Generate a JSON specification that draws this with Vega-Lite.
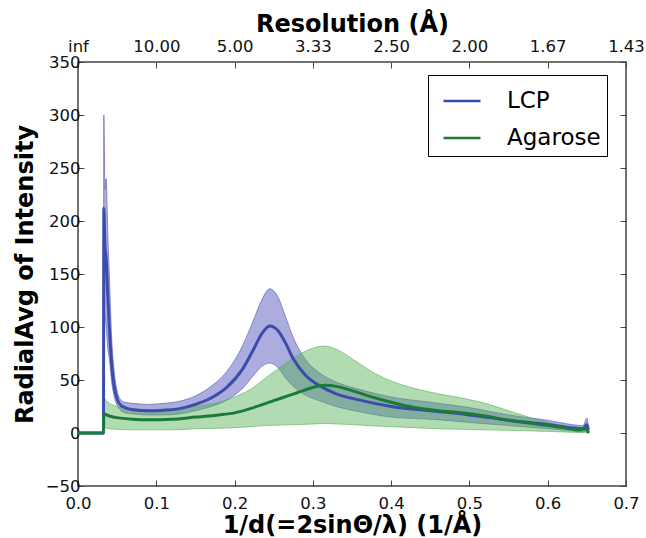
{
  "$schema": "https://vega.github.io/schema/vega-lite/v6.json",
  "width": 548,
  "height": 424,
  "autosize": {"type": "none"},
  "padding": {"left": 78, "top": 62, "right": 20, "bottom": 52},
  "background": "white",
  "config": {
    "font": "DejaVu Sans",
    "view": {"stroke": "#444444", "strokeWidth": 1.5},
    "axis": {
      "domain": false,
      "grid": false,
      "labelFlush": false,
      "tickColor": "#444444",
      "tickWidth": 1,
      "tickSize": -6,
      "labelFontSize": 16.5,
      "labelColor": "#111111",
      "titleFontSize": 24,
      "titleFontWeight": "bold",
      "titleColor": "#000000"
    }
  },
  "datasets": {
    "d": [
      {"x": 0.0, "s": "LCP", "m": 0, "lo": 0, "hi": 0},
      {"x": 0.0325, "s": "LCP", "m": 0, "lo": 0, "hi": 0},
      {"x": 0.033, "s": "LCP", "m": 212, "lo": 100, "hi": 300},
      {"x": 0.0345, "s": "LCP", "m": 175, "lo": 110, "hi": 230},
      {"x": 0.036, "s": "LCP", "m": 165, "lo": 100, "hi": 240},
      {"x": 0.038, "s": "LCP", "m": 130, "lo": 80, "hi": 190},
      {"x": 0.04, "s": "LCP", "m": 100, "lo": 70, "hi": 150},
      {"x": 0.043, "s": "LCP", "m": 65, "lo": 48, "hi": 90},
      {"x": 0.046, "s": "LCP", "m": 45, "lo": 35, "hi": 60},
      {"x": 0.05, "s": "LCP", "m": 32, "lo": 26, "hi": 40},
      {"x": 0.055, "s": "LCP", "m": 26, "lo": 21, "hi": 31},
      {"x": 0.06, "s": "LCP", "m": 24, "lo": 19, "hi": 29},
      {"x": 0.07, "s": "LCP", "m": 22, "lo": 18, "hi": 28},
      {"x": 0.09, "s": "LCP", "m": 21, "lo": 17, "hi": 27},
      {"x": 0.11, "s": "LCP", "m": 21.5, "lo": 17, "hi": 28},
      {"x": 0.13, "s": "LCP", "m": 23, "lo": 18, "hi": 30},
      {"x": 0.15, "s": "LCP", "m": 27, "lo": 21, "hi": 35},
      {"x": 0.17, "s": "LCP", "m": 33, "lo": 25, "hi": 44},
      {"x": 0.19, "s": "LCP", "m": 43, "lo": 31, "hi": 58},
      {"x": 0.21, "s": "LCP", "m": 60, "lo": 42, "hi": 82},
      {"x": 0.225, "s": "LCP", "m": 80, "lo": 55, "hi": 108},
      {"x": 0.235, "s": "LCP", "m": 94, "lo": 63, "hi": 126},
      {"x": 0.245, "s": "LCP", "m": 101, "lo": 66, "hi": 136},
      {"x": 0.255, "s": "LCP", "m": 97, "lo": 62, "hi": 129},
      {"x": 0.265, "s": "LCP", "m": 85, "lo": 52, "hi": 110},
      {"x": 0.275, "s": "LCP", "m": 70, "lo": 44, "hi": 90},
      {"x": 0.29, "s": "LCP", "m": 55, "lo": 36, "hi": 70},
      {"x": 0.31, "s": "LCP", "m": 44, "lo": 30, "hi": 56},
      {"x": 0.33, "s": "LCP", "m": 37, "lo": 25, "hi": 48},
      {"x": 0.36, "s": "LCP", "m": 31, "lo": 20, "hi": 41},
      {"x": 0.4, "s": "LCP", "m": 25, "lo": 15, "hi": 34},
      {"x": 0.45, "s": "LCP", "m": 21, "lo": 13, "hi": 29},
      {"x": 0.5, "s": "LCP", "m": 17, "lo": 10, "hi": 24},
      {"x": 0.55, "s": "LCP", "m": 12, "lo": 7, "hi": 17},
      {"x": 0.6, "s": "LCP", "m": 8, "lo": 4, "hi": 12},
      {"x": 0.63, "s": "LCP", "m": 5, "lo": 2, "hi": 8},
      {"x": 0.645, "s": "LCP", "m": 4, "lo": 1, "hi": 7},
      {"x": 0.65, "s": "LCP", "m": 8, "lo": 2, "hi": 14},
      {"x": 0.652, "s": "LCP", "m": 3, "lo": 0, "hi": 5},
      {"x": 0.0, "s": "Agarose", "m": 0, "lo": 0, "hi": 0},
      {"x": 0.0325, "s": "Agarose", "m": 0, "lo": 0, "hi": 0},
      {"x": 0.033, "s": "Agarose", "m": 18, "lo": 5, "hi": 32},
      {"x": 0.04, "s": "Agarose", "m": 16, "lo": 4, "hi": 28},
      {"x": 0.05, "s": "Agarose", "m": 14.5, "lo": 3.5, "hi": 25},
      {"x": 0.07, "s": "Agarose", "m": 13, "lo": 3, "hi": 23},
      {"x": 0.09, "s": "Agarose", "m": 12.5, "lo": 3, "hi": 22},
      {"x": 0.12, "s": "Agarose", "m": 13, "lo": 3, "hi": 23},
      {"x": 0.15, "s": "Agarose", "m": 15, "lo": 4, "hi": 25},
      {"x": 0.18, "s": "Agarose", "m": 17, "lo": 4.5, "hi": 29},
      {"x": 0.2, "s": "Agarose", "m": 19, "lo": 5, "hi": 34},
      {"x": 0.22, "s": "Agarose", "m": 23, "lo": 6, "hi": 41},
      {"x": 0.24, "s": "Agarose", "m": 28, "lo": 7, "hi": 52},
      {"x": 0.26, "s": "Agarose", "m": 33, "lo": 7.5, "hi": 63},
      {"x": 0.28, "s": "Agarose", "m": 38, "lo": 8, "hi": 73},
      {"x": 0.3, "s": "Agarose", "m": 43, "lo": 8.5, "hi": 80},
      {"x": 0.315, "s": "Agarose", "m": 45, "lo": 9, "hi": 82},
      {"x": 0.33, "s": "Agarose", "m": 44, "lo": 8.5, "hi": 79},
      {"x": 0.35, "s": "Agarose", "m": 40, "lo": 8, "hi": 70},
      {"x": 0.38, "s": "Agarose", "m": 33, "lo": 6.5, "hi": 56},
      {"x": 0.4, "s": "Agarose", "m": 29, "lo": 6, "hi": 49},
      {"x": 0.43, "s": "Agarose", "m": 24, "lo": 5, "hi": 42},
      {"x": 0.46, "s": "Agarose", "m": 21, "lo": 4, "hi": 37},
      {"x": 0.49, "s": "Agarose", "m": 19, "lo": 3.5, "hi": 33},
      {"x": 0.52, "s": "Agarose", "m": 16, "lo": 3, "hi": 28},
      {"x": 0.55, "s": "Agarose", "m": 12, "lo": 2.5, "hi": 21},
      {"x": 0.58, "s": "Agarose", "m": 9, "lo": 2, "hi": 14},
      {"x": 0.6, "s": "Agarose", "m": 7, "lo": 1.5, "hi": 10},
      {"x": 0.62, "s": "Agarose", "m": 5, "lo": 1, "hi": 7},
      {"x": 0.64, "s": "Agarose", "m": 3, "lo": 0.5, "hi": 4},
      {"x": 0.648, "s": "Agarose", "m": 4, "lo": 0.5, "hi": 6},
      {"x": 0.6525, "s": "Agarose", "m": 0, "lo": 0, "hi": 0}
    ]
  },
  "data": {"name": "d"},
  "layer": [
    {
      "transform": [{"filter": "datum.s == 'LCP'"}],
      "mark": {"type": "area", "interpolate": "monotone", "fill": "#5a5abd", "fillOpacity": 0.5, "stroke": "#5353b9", "strokeOpacity": 0.6, "strokeWidth": 1},
      "encoding": {
        "x": {"field": "x", "type": "quantitative", "scale": {"domain": [0, 0.7], "nice": false, "zero": false},
              "axis": {"orient": "bottom", "values": [0, 0.1, 0.2, 0.3, 0.4, 0.5, 0.6, 0.7], "format": ".1f", "title": "1/d(=2sinΘ/λ) (1/Å)", "labelPadding": 15, "titlePadding": 2}},
        "y": {"field": "lo", "type": "quantitative", "scale": {"domain": [-50, 350], "nice": false, "zero": false},
              "axis": {"orient": "left", "values": [-50, 0, 50, 100, 150, 200, 250, 300, 350], "format": "d", "title": "RadialAvg of Intensity", "labelPadding": 4, "titlePadding": 8}},
        "y2": {"field": "hi"}
      }
    },
    {
      "transform": [{"filter": "datum.s == 'Agarose'"}],
      "mark": {"type": "area", "interpolate": "monotone", "fill": "#51b151", "fillOpacity": 0.45, "stroke": "#51b151", "strokeOpacity": 0.6, "strokeWidth": 1},
      "encoding": {
        "x": {"field": "x", "type": "quantitative",
              "axis": {"orient": "top", "values": [0, 0.1, 0.2, 0.3, 0.4, 0.5, 0.6, 0.7], "labelExpr": "datum.value == 0 ? 'inf' : format(1 / datum.value, '.2f')", "title": "Resolution (Å)", "labelPadding": 14, "titlePadding": 2}},
        "y": {"field": "lo", "type": "quantitative",
              "axis": {"orient": "right", "values": [-50, 0, 50, 100, 150, 200, 250, 300, 350], "labels": false, "title": null}},
        "y2": {"field": "hi"}
      }
    },
    {
      "mark": {"type": "line", "interpolate": "monotone", "strokeWidth": 3},
      "encoding": {
        "x": {"field": "x", "type": "quantitative", "axis": null},
        "y": {"field": "m", "type": "quantitative", "axis": null},
        "color": {"field": "s", "type": "nominal", "sort": ["LCP", "Agarose"],
                  "scale": {"domain": ["LCP", "Agarose"], "range": ["#3b4cad", "#1b7a3a"]},
                  "legend": {"title": null, "orient": "none", "legendX": 350, "legendY": 13,
                             "symbolType": "stroke", "symbolSize": 1369, "symbolStrokeWidth": 2.5,
                             "labelFontSize": 23, "labelColor": "#000000", "labelOffset": 25,
                             "symbolOffset": 8, "padding": 6, "rowPadding": 5,
                             "strokeColor": "#000000", "fillColor": "white", "cornerRadius": 0}}
      }
    }
  ],
  "resolve": {"axis": {"x": "independent", "y": "independent"}}
}
